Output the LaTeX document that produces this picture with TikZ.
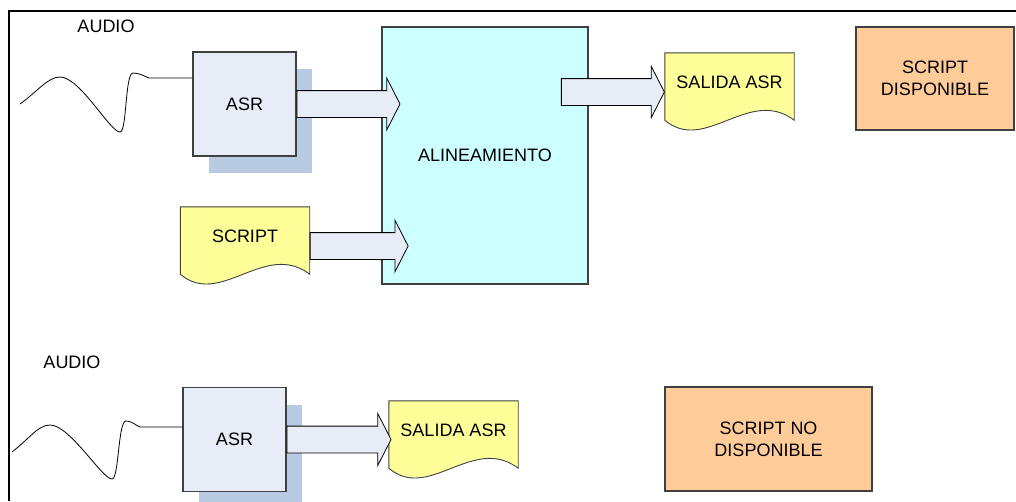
\documentclass[tikz,border=0pt]{standalone}
\usepackage{fontspec}
\setmainfont{Liberation Sans}
\usetikzlibrary{shapes.arrows,shadows,backgrounds,calc,positioning}

\definecolor{cajaazul}{HTML}{E7ECF7}
\definecolor{sombra}{HTML}{B9CAE3}
\definecolor{amarillo}{HTML}{FFFF99}
\definecolor{cian}{HTML}{CCFFFF}
\definecolor{naranja}{HTML}{FFCC99}
\definecolor{borde}{HTML}{404040}

% hoja con borde inferior ondulado
\newcommand{\hojadoc}[1]{%
  \begin{scope}[on background layer]
    \draw[draw=borde, line width=0.9pt, fill=amarillo] (#1.north west) -- (#1.north east)
      -- ([yshift=-9pt]#1.south east)
      .. controls +(-45pt,34pt) and +(40pt,-34pt) .. ([yshift=-9pt]#1.south west) -- cycle;
  \end{scope}}

\begin{document}
\begin{tikzpicture}[x=1pt, y=-1pt,
    font=\fontsize{18}{22}\selectfont,
    bloque/.style={draw=borde, line width=1.2pt, fill=cajaazul, minimum width=103pt, minimum height=104pt,
                   drop shadow={shadow xshift=16pt, shadow yshift=-17pt, fill=sombra, opacity=1}},
    caja/.style={draw=borde, line width=1.2pt, align=center, inner sep=0pt},
    hoja/.style={minimum width=129pt, minimum height=58pt, inner sep=0pt},
    flecha/.style={single arrow, draw=black, fill=cajaazul, line width=0.8pt,
                   inner xsep=0pt, inner ysep=13pt, text height=0pt, text depth=0pt, text width=0pt,
                   single arrow head extend=12.5pt, single arrow tip angle=126},
    onda/.style={draw=black, line width=0.8pt}
]
    \useasboundingbox (0,0) rectangle (1016,501);
    \draw[line width=2pt] (9,501) |- (1016,11);

    % script disponible
    \node (audio1) at (106,26) {AUDIO};
    \node[bloque] (asr1) at (244.5,104) {ASR};
    \node[caja, fill=cian, minimum width=206pt, minimum height=257pt] (alin) at (485,155.5) {ALINEAMIENTO};
    \node[hoja] (script) at (245,236) {SCRIPT};
    \node[hoja] (salida1) at (729.5,82) {SALIDA ASR};
    \node[caja, fill=naranja, minimum width=158pt, minimum height=103pt] (disp) at (935,78.5) {SCRIPT\\DISPONIBLE};
    \hojadoc{script}
    \hojadoc{salida1}

    \coordinate (w1) at (20,104);
    \draw[onda] (w1) .. controls +(18,-13) and +(-12,0) .. ++(40,-27)
        .. controls +(20,0) and +(-10,0) .. ++(60,55)
        .. controls +(7,0) and +(-8,0) .. ++(13,-59)
        .. controls +(6,0) and +(-5,-2) .. ++(16,5)
        -- ([yshift=26pt]asr1.west);

    \node[flecha, minimum height=103pt, anchor=tail] (f1) at (asr1.east) {};
    \node[flecha, minimum height=98pt, anchor=tail] (f2) at ([yshift=-10pt]script.east) {};
    \node[flecha, minimum height=103pt, anchor=tip] (f3) at ([yshift=-10pt]salida1.west) {};

    % script no disponible
    \node (audio2) at (72,362) {AUDIO};
    \node[bloque] (asr2) at (234.5,439.5) {ASR};
    \node[hoja] (salida2) at (453.5,430) {SALIDA ASR};
    \node[caja, fill=naranja, minimum width=207pt, minimum height=104pt] (nodisp) at (768.5,439) {SCRIPT NO\\DISPONIBLE};
    \hojadoc{salida2}

    \coordinate (w2) at (12,452);
    \draw[onda] (w2) .. controls +(17,-13) and +(-12,0) .. ++(38,-27)
        .. controls +(20,0) and +(-10,0) .. ++(62,54)
        .. controls +(7,0) and +(-8,0) .. ++(14,-58)
        .. controls +(6,0) and +(-5,-2) .. ++(14,6)
        -- ([yshift=12.5pt]asr2.west);

    \node[flecha, minimum height=104pt, anchor=tail] (f4) at (asr2.east) {};
\end{tikzpicture}
\end{document}
